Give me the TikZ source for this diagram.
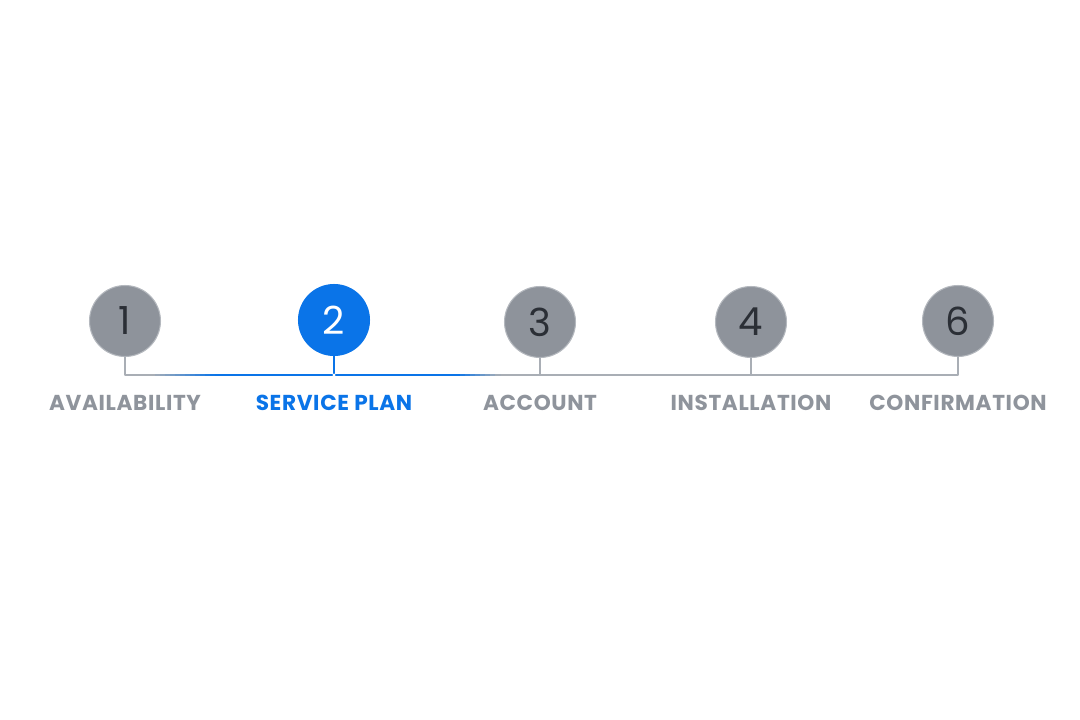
\documentclass[tikz,border=0pt]{standalone}
\usepackage{fontspec}
\setmainfont{Poppins}
\usetikzlibrary{calc}
\definecolor{stepgray}{HTML}{8E939B}
\definecolor{ringgray}{HTML}{B4B8BE}
\definecolor{linegray}{HTML}{A9AEB5}
\definecolor{labelgray}{HTML}{8F949C}
\definecolor{activeblue}{HTML}{0A74E8}
\definecolor{digitdark}{HTML}{2B2F36}
\begin{document}
\begin{tikzpicture}[x=0.02cm, y=-0.02cm, line join=round, line cap=round,
	stepdot/.style={circle, minimum size=1.42cm, inner sep=0pt, fill=stepgray, draw=ringgray, line width=0.6pt,
		text=digitdark, font=\fontsize{22}{22}\selectfont},
	activedot/.style={stepdot, fill=activeblue, draw=activeblue, text=white},
	steplabel/.style={text=labelgray, font=\fontsize{12.3}{13}\selectfont\bfseries\addfontfeatures{LetterSpace=3}},
	activelabel/.style={steplabel, text=activeblue},
	rail/.style={draw=linegray, line width=1.2pt},
	bluerail/.style={line width=1.5pt, line cap=butt}]
	\useasboundingbox (0,0) rectangle (1080,720);
	\def\ybase{375} \def\ylab{403} % base line, labels
	% step circles
	\node[stepdot] (s1) at (125,321) {1};
	\node[activedot] (s2) at (334,320) {2};
	\node[stepdot] (s3) at (540,322) {3};
	\node[stepdot] (s4) at (751,322) {4};
	\node[stepdot] (s6) at (958,321) {6};
	\coordinate (base) at (0,\ybase);
	% rail
	\draw[rail] (s1.south) -- (s1.south |- base) -- (s6.south |- base) -- (s6.south);
	\foreach \s in {s3,s4} \draw[rail] (\s.south) -- (\s.south |- base);
	% blue part of the rail, faded at both ends
	\foreach \i [evaluate=\i as \p using int(8*\i)] in {0,...,12}
		\draw[bluerail, activeblue!\p!linegray] (150+5*\i,\ybase) -- ++(5.5,0);
	\draw[bluerail, activeblue] (215,\ybase) -- (456,\ybase);
	\foreach \i [evaluate=\i as \p using int(100-12*\i)] in {0,...,8}
		\draw[bluerail, activeblue!\p!linegray] (455+5*\i,\ybase) -- ++(5.5,0);
	\draw[draw=activeblue, line width=1.2pt] (s2.south) -- (s2.south |- base);
	\fill[white] (s2.south |- base) circle (1.6);
	% labels
	\foreach \s/\t in {s1/AVAILABILITY, s3/ACCOUNT, s4/INSTALLATION, s6/CONFIRMATION}
		\node[steplabel] (l\s) at (\s |- 0,\ylab) {\t};
	\node[activelabel] (ls2) at (s2 |- 0,\ylab) {SERVICE PLAN};
\end{tikzpicture}
\end{document}
